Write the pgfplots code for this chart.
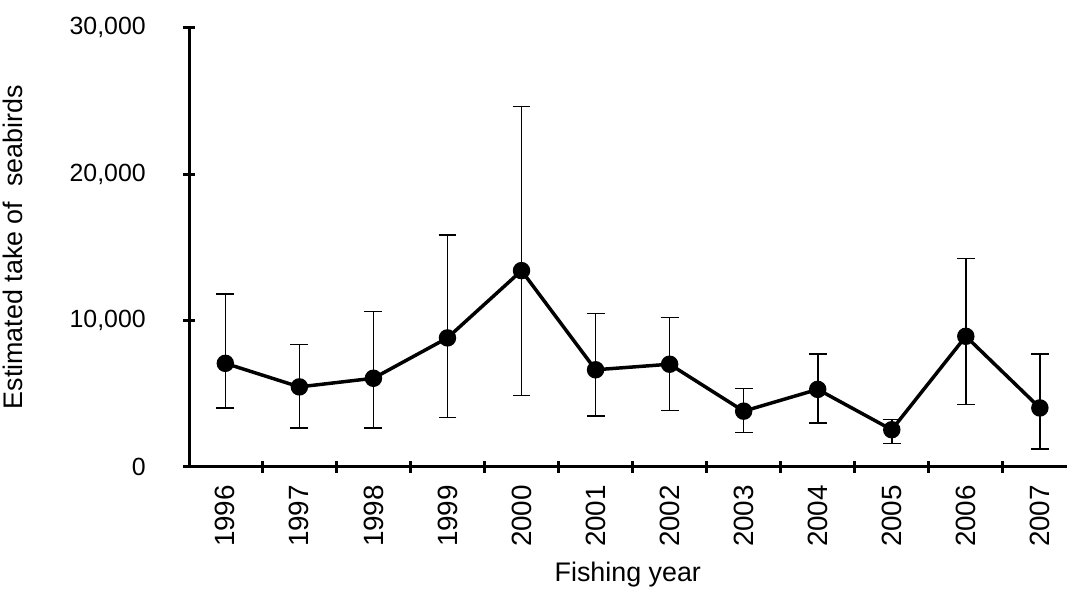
\documentclass[border=0pt]{standalone}
\usepackage{pgfplots}
\pgfplotsset{compat=1.18}
\usepackage{fontspec}
\setmainfont{Liberation Sans}
\begin{document}
\begin{tikzpicture}
\begin{axis}[
  scale only axis, width=882pt, height=441pt,
  xmin=-0.49, xmax=11.36, ymin=0, ymax=30000,
  scaled y ticks=false,
  axis lines*=left,
  axis line style={line width=3pt, -},
  xtick={-0.5,0.5,...,11.5}, xticklabels={},
  extra x ticks={0,...,11},
  extra x tick labels={1996,1997,1998,1999,2000,2001,2002,2003,2004,2005,2006,2007},
  extra x tick style={major tick length=0pt, xticklabel style={rotate=90, anchor=east, font=\fontsize{28}{32}\selectfont, xshift=-15pt}},
  ytick={0,10000,20000,30000},
  yticklabels={0,{10,000},{20,000},{30,000}},
  yticklabel style={font=\fontsize{25}{29}\selectfont, xshift=-34pt},
  major tick length=12pt,
  tick style={line width=3pt, black},
  ytick style={line width=3pt, black},
  tick align=center,
  xlabel={Fishing year}, ylabel={Estimated take of\ \ seabirds},
  xlabel style={font=\fontsize{27}{31}\selectfont, yshift=-2pt},
  ylabel style={font=\fontsize{27}{31}\selectfont, yshift=40pt},
  clip=false,
]
\addplot[black, line width=3.5pt, mark=*, mark size=7pt,
  error bars/.cd, y dir=both, y explicit,
  error bar style={line width=1.6pt}, error mark options={rotate=90, mark size=9pt, line width=1.6pt}]
  table[x=x, y=y, y error plus=ep, y error minus=em] {
x y ep em
0 7060 4730 3060
1 5450 2900 2820
2 6040 4570 3410
3 8800 7050 5430
4 13400 11230 8550
5 6620 3840 3170
6 7000 3200 3170
7 3790 1540 1460
8 5280 2410 2310
9 2520 700 930
10 8910 5310 4670
11 4010 3680 2810
};
\end{axis}
\useasboundingbox (current axis.south west) ++(-186pt,-134pt) rectangle ++(1068pt,603pt);
\end{tikzpicture}
\end{document}
